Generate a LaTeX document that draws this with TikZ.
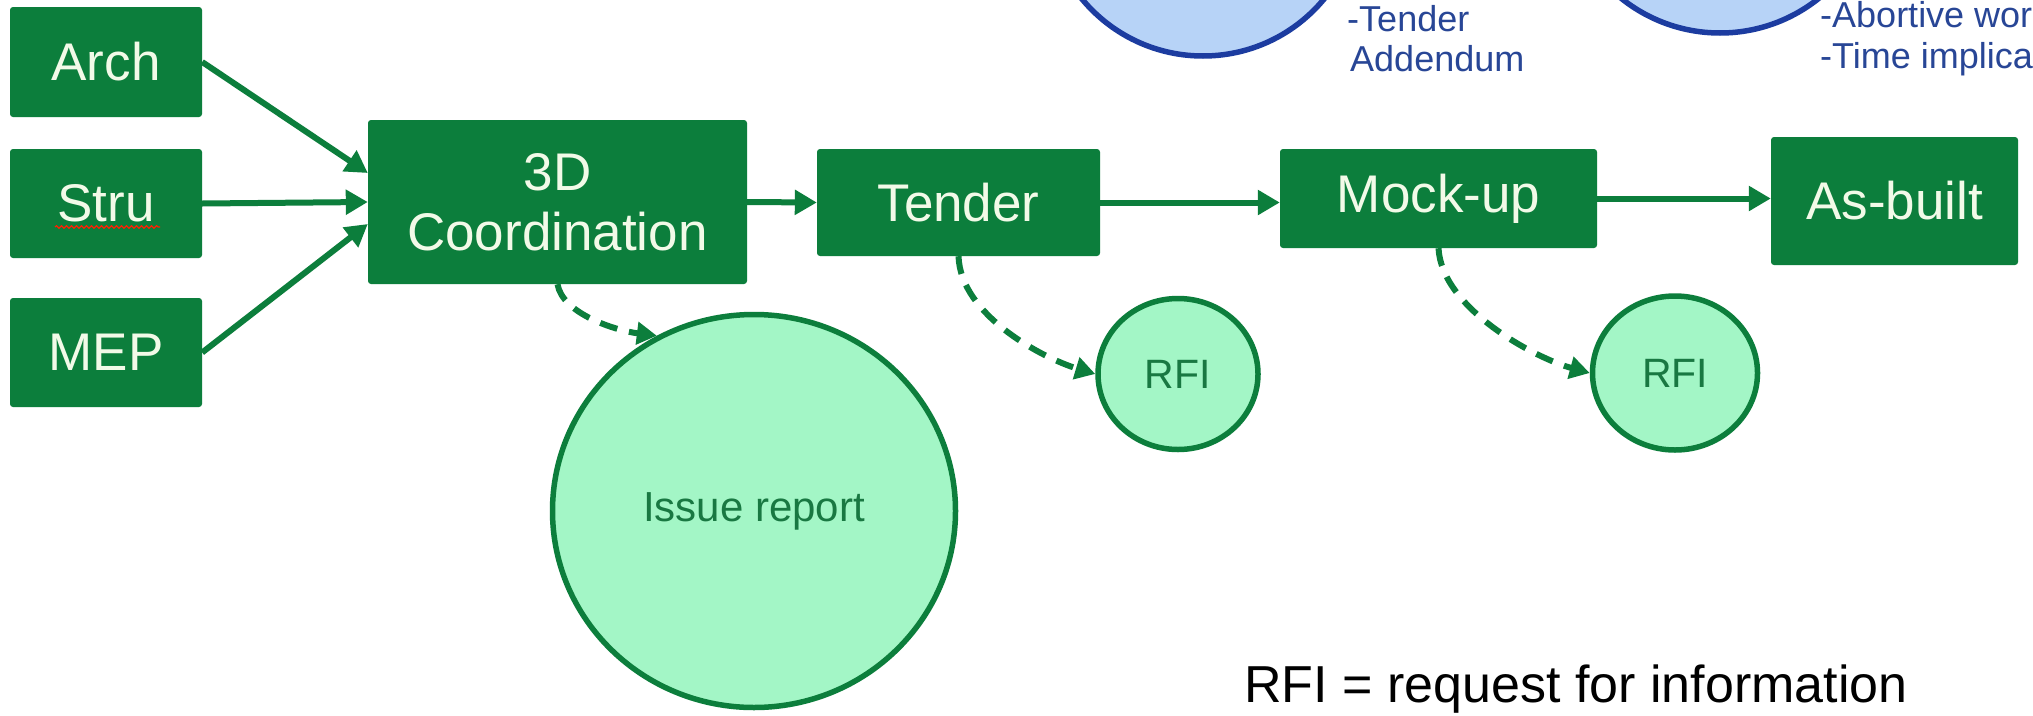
\documentclass[tikz,border=0pt]{standalone}
\usepackage{fontspec}
\setmainfont{Liberation Sans}
\usetikzlibrary{arrows.meta,shapes.geometric,decorations.pathmorphing}
\definecolor{boxgreen}{RGB}{12,126,60}
\definecolor{boxtext}{RGB}{242,250,232}
\definecolor{mint}{RGB}{163,246,198}
\definecolor{circtext}{RGB}{25,120,66}
\definecolor{lightblue}{RGB}{183,211,247}
\definecolor{darkblue}{RGB}{28,60,160}
\definecolor{bluetext}{RGB}{40,70,150}
\begin{document}
\begin{tikzpicture}[x=1pt,y=-1pt,
  procbox/.style={fill=boxgreen, draw=none, rounded corners=3pt, text=boxtext, inner sep=0pt, align=center, font=\fontsize{53}{60}\selectfont},
  outcome/.style={ellipse, fill=mint, draw=boxgreen, line width=5.5pt, text=circtext, inner sep=0pt},
  flow/.style={draw=boxgreen, line width=6pt, -{Triangle[length=22pt,width=24pt]}},
  spawn/.style={draw=boxgreen, line width=6pt, dash pattern=on 18pt off 12pt, -{Triangle[length=20pt,width=22pt]}},
  note/.style={text=bluetext, anchor=base west, inner sep=0pt, font=\fontsize{36}{42}\selectfont},
  bubble/.style={circle, fill=lightblue, draw=darkblue, line width=5.5pt, inner sep=0pt}
]
\useasboundingbox (0,0) rectangle (2033,715);
\clip (0,0) rectangle (2033,715);
\fill[white] (0,0) rectangle (2033,715);

% partial bubbles at top
\node[bubble, minimum size=314pt] (bubA) at (1203,-101) {};
\node[bubble, minimum size=316pt] (bubB) at (1720,-125) {};
\node[note] (tendnote1) at (1347,31) {-Tender};
\node[note] (tendnote2) at (1350,71) {Addendum};
\node[note] (abnote1) at (1820,27) {-Abortive work};
\node[note] (abnote2) at (1820,68) {-Time implication};

% process boxes
\node[procbox, minimum width=192pt, minimum height=110pt] (arch) at (106,62) {Arch};
\node[procbox, minimum width=192pt, minimum height=109pt] (stru) at (106,203.5) {Stru};
\node[procbox, minimum width=192pt, minimum height=109pt] (mep) at (106,352.5) {MEP};
\node[procbox, minimum width=379pt, minimum height=164pt] (coord) at (557.5,202) {3D\\Coordination};
\node[procbox, minimum width=283pt, minimum height=107pt] (tender) at (958.5,202.5) {Tender};
\node[procbox, minimum width=317pt, minimum height=99pt] (mock) at (1438.5,198.5) {Mock-up};
\node[procbox, minimum width=247pt, minimum height=128pt] (asbuilt) at (1894.5,201) {As-built};

% spell-check underline under Stru
\draw[decorate, decoration={snake, amplitude=1.3pt, segment length=5pt}, draw=red!75!orange, line width=1.2pt] (55,227) -- (160,227);

% outcome circles
\node[outcome, minimum width=403pt, minimum height=393pt, font=\fontsize{42}{48}\selectfont] (issue) at (754,511) {Issue report};
\node[outcome, minimum width=160pt, minimum height=151pt, font=\fontsize{41}{48}\selectfont] (rfi1) at (1178,374) {RFI};
\node[outcome, minimum width=165pt, minimum height=154pt, font=\fontsize{41}{48}\selectfont] (rfi2) at (1675,373) {RFI};

% solid flows
\draw[flow] (arch.east) -- ([yshift=29pt]coord.west);
\draw[flow] (stru.east) -- (coord.west);
\draw[flow] (mep.east) -- ([yshift=-22pt]coord.west);
\draw[flow] (coord.east) -- (tender.west);
\draw[flow] (tender.east) -- (tender.east -| mock.west);
\draw[flow] (mock.east) -- (mock.east -| asbuilt.west);

% dashed spawns
\draw[spawn] (coord.south) .. controls +(5,30) and +(-40,-5) .. (issue.119);
\draw[spawn] (tender.south) .. controls +(2,60) and +(-50,-15) .. (rfi1.west);
\draw[spawn] (mock.south) .. controls +(3,60) and +(-55,-15) .. (rfi2.west);

% legend
\node[anchor=base west, inner sep=0pt, font=\fontsize{52}{60}\selectfont] (legend) at (1244,702) {RFI = request for information};
\end{tikzpicture}
\end{document}
